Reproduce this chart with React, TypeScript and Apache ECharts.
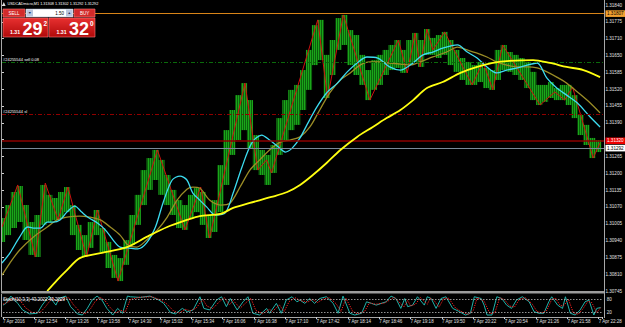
import React, { useEffect, useRef } from "react";
import * as echarts from "echarts";

const FONT = '"Liberation Sans", Arial, sans-serif';

const chartTitle = "USDCADmicro,M1 1.31308 1.31302 1.31292 1.31292";
const stochTitle = "Stoch(10,3,3) 43.2022 43.2029";

// right price scale labels, bottom to top (one hidden behind the ask box)
const priceTickLabels = [
  "1.30745", "1.30810", "1.30875", "1.30940", "1.31005", "1.31070", "1.31135", "1.31200", "1.31265",
  "", "1.31390", "1.31455", "1.31520", "1.31585", "1.31650", "1.31710", "1.31775", "1.31840",
];
const timeTickLabels = [
  "7 Apr 2016", "7 Apr 12:54", "7 Apr 13:26", "7 Apr 13:58", "7 Apr 14:30", "7 Apr 15:02", "7 Apr 15:34",
  "7 Apr 16:06", "7 Apr 16:38", "7 Apr 17:10", "7 Apr 17:42", "7 Apr 18:14", "7 Apr 18:46", "7 Apr 19:18",
  "7 Apr 19:50", "7 Apr 20:22", "7 Apr 20:54", "7 Apr 21:26", "7 Apr 21:58", "7 Apr 22:28",
];
const timeTickStep = 32; // minutes between time labels
const minutesShown = 612;
const priceMax = 1.318477;
const priceMin = 1.307411;

// M1 price bars, grouped every 6 minutes: high / low
const barStep = 6;
const barHigh = [
  1.31024, 1.31074, 1.31124, 1.31147, 1.31074, 1.31009, 1.31036, 1.31151, 1.31113, 1.31101,
  1.31124, 1.31143, 1.31074, 1.30998, 1.30959, 1.31009, 1.31055, 1.30986, 1.30933, 1.30883,
  1.30871, 1.30940, 1.31036, 1.31113, 1.31208, 1.31254, 1.31285, 1.31247, 1.31189, 1.31132,
  1.31093, 1.31074, 1.31113, 1.31139, 1.31124, 1.31036, 1.31093, 1.31227, 1.31361, 1.31438,
  1.31495, 1.31541, 1.31476, 1.31342, 1.31285, 1.31266, 1.31304, 1.31407, 1.31476, 1.31515,
  1.31534, 1.31591, 1.31668, 1.31763, 1.31783, 1.31649, 1.31706, 1.31790, 1.31802, 1.31744,
  1.31725, 1.31649, 1.31591, 1.31629, 1.31649, 1.31668, 1.31687, 1.31706, 1.31668, 1.31706,
  1.31733, 1.31706, 1.31748, 1.31714, 1.31725, 1.31737, 1.31706, 1.31668, 1.31637, 1.31622,
  1.31610, 1.31622, 1.31599, 1.31591, 1.31668, 1.31687, 1.31660, 1.31649, 1.31637, 1.31622,
  1.31584, 1.31534, 1.31534, 1.31545, 1.31522, 1.31534, 1.31534, 1.31495, 1.31419, 1.31381,
  1.31331, 1.31323,
];
const barLow = [
  1.30933, 1.30959, 1.30986, 1.31009, 1.30940, 1.30883, 1.30875, 1.30998, 1.31009, 1.31017,
  1.31024, 1.31047, 1.30959, 1.30902, 1.30875, 1.30910, 1.30959, 1.30894, 1.30833, 1.30795,
  1.30783, 1.30845, 1.30921, 1.30998, 1.31074, 1.31132, 1.31170, 1.31113, 1.31074, 1.31036,
  1.30986, 1.30979, 1.31024, 1.31047, 1.30998, 1.30948, 1.30971, 1.31047, 1.31151, 1.31266,
  1.31323, 1.31361, 1.31292, 1.31208, 1.31189, 1.31151, 1.31197, 1.31266, 1.31323, 1.31361,
  1.31381, 1.31438, 1.31515, 1.31610, 1.31629, 1.31484, 1.31572, 1.31668, 1.31687, 1.31610,
  1.31572, 1.31534, 1.31476, 1.31515, 1.31534, 1.31572, 1.31591, 1.31599, 1.31580, 1.31610,
  1.31622, 1.31603, 1.31649, 1.31649, 1.31637, 1.31649, 1.31610, 1.31584, 1.31553, 1.31534,
  1.31534, 1.31545, 1.31522, 1.31515, 1.31553, 1.31591, 1.31584, 1.31572, 1.31553, 1.31522,
  1.31476, 1.31457, 1.31469, 1.31484, 1.31476, 1.31476, 1.31457, 1.31407, 1.31342, 1.31304,
  1.31254, 1.31277,
];

// [minute, price]
const zigzag = [
  [0, 1.3099], [16, 1.31151], [34, 1.30875], [44, 1.31158], [57, 1.31017], [67, 1.31143], [86, 1.30875],
  [97, 1.31055], [118, 1.30783], [158, 1.31285], [186, 1.30979], [202, 1.31143], [211, 1.30948],
  [247, 1.31541], [260, 1.31208], [269, 1.31247], [274, 1.31197], [321, 1.31783], [331, 1.31484],
  [347, 1.31802], [374, 1.31476], [403, 1.31706], [412, 1.3158], [420, 1.31733], [425, 1.31603],
  [432, 1.31748], [438, 1.31668], [450, 1.31737], [478, 1.31534], [489, 1.31622], [499, 1.31515],
  [509, 1.31687], [547, 1.31457], [562, 1.31507], [572, 1.31476], [580, 1.31526], [601, 1.31254],
  [608, 1.31312],
];
const fastMA = [
  [0, 1.30852], [8, 1.3089], [18, 1.30952], [26, 1.3099], [32, 1.30986], [39, 1.30986], [46, 1.31009],
  [52, 1.31009], [59, 1.31017], [66, 1.31047], [74, 1.3107], [81, 1.31047], [87, 1.31028], [97, 1.31005],
  [105, 1.30979], [113, 1.3094], [120, 1.30913], [128, 1.3091], [138, 1.30906], [147, 1.30929],
  [156, 1.3099], [164, 1.31086], [173, 1.3117], [181, 1.31185], [188, 1.3117], [194, 1.3112],
  [201, 1.31093], [208, 1.31067], [217, 1.31036], [227, 1.31044], [235, 1.3112], [244, 1.3122],
  [254, 1.31312], [264, 1.31342], [272, 1.31323], [281, 1.31296], [288, 1.31277], [295, 1.31292],
  [303, 1.31331], [310, 1.31381], [320, 1.31449], [330, 1.31503], [341, 1.31541], [351, 1.31584],
  [361, 1.31618], [371, 1.31641], [382, 1.31637], [394, 1.31603], [405, 1.31591], [415, 1.3161],
  [428, 1.31649], [438, 1.3166], [448, 1.31675], [463, 1.31687], [473, 1.3166], [483, 1.31637],
  [493, 1.31603], [503, 1.3158], [513, 1.31591], [524, 1.31599], [534, 1.3161], [544, 1.31618],
  [554, 1.3156], [564, 1.31522], [574, 1.31495], [585, 1.31465], [598, 1.31411], [608, 1.31373],
];
const slowMA = [
  [0, 1.30806], [8, 1.30852], [18, 1.30902], [32, 1.30952], [46, 1.3099], [56, 1.31017], [66, 1.31028],
  [79, 1.31032], [89, 1.31028], [100, 1.31017], [110, 1.3099], [120, 1.30959], [128, 1.30921],
  [137, 1.30913], [147, 1.3094], [158, 1.30979], [168, 1.31028], [178, 1.31093], [188, 1.31135],
  [194, 1.31143], [201, 1.31139], [211, 1.31093], [222, 1.31074], [232, 1.31082], [242, 1.31143],
  [252, 1.31208], [262, 1.31247], [272, 1.31285], [283, 1.31315], [293, 1.31323], [303, 1.31335],
  [313, 1.31373], [323, 1.31438], [333, 1.31503], [344, 1.31553], [354, 1.3158], [364, 1.3161],
  [374, 1.31622], [384, 1.31622], [394, 1.31618], [405, 1.31614], [415, 1.3161], [425, 1.31622],
  [438, 1.31641], [452, 1.3166], [463, 1.31679], [473, 1.31668], [483, 1.31656], [493, 1.31641],
  [503, 1.31622], [513, 1.3161], [524, 1.31603], [534, 1.31603], [544, 1.31599], [554, 1.31584],
  [564, 1.31564], [574, 1.31541], [585, 1.31507], [598, 1.31465], [608, 1.31427],
];
const longMA = [
  [46, 1.30745], [56, 1.30787], [66, 1.30825], [79, 1.30871], [100, 1.3089], [127, 1.30913],
  [147, 1.30952], [168, 1.3099], [188, 1.31017], [201, 1.31032], [222, 1.3104], [235, 1.31063],
  [252, 1.31082], [274, 1.31105], [290, 1.31124], [303, 1.31151], [316, 1.31189], [330, 1.31235],
  [344, 1.31285], [361, 1.31335], [377, 1.31373], [391, 1.31407], [405, 1.31438], [418, 1.31476],
  [432, 1.31522], [448, 1.31545], [466, 1.3158], [483, 1.31603], [499, 1.31618], [516, 1.31626],
  [540, 1.31629], [557, 1.31618], [574, 1.31603], [591, 1.31591], [608, 1.31564],
];

// stochastic [minute, value]
const stochMain = [
  [0, 54], [3, 62], [8, 95], [15, 62], [20, 32], [27, 14], [35, 17], [40, 54], [47, 95], [54, 54],
  [57, 84], [64, 95], [69, 47], [76, 14], [81, 9], [86, 39], [91, 77], [96, 95], [101, 77], [106, 39],
  [112, 9], [117, 39], [122, 17], [127, 95], [130, 92], [140, 89], [150, 95], [159, 77], [164, 62],
  [171, 20], [176, 14], [183, 39], [188, 24], [194, 32], [201, 92], [205, 39], [211, 32], [218, 77],
  [223, 92], [228, 47], [232, 84], [239, 32], [245, 69], [250, 92], [255, 17], [262, 9], [269, 39],
  [272, 17], [279, 62], [284, 17], [289, 77], [295, 92], [300, 69], [303, 77], [308, 62], [313, 84],
  [318, 62], [323, 84], [330, 92], [337, 62], [342, 17], [347, 95], [354, 17], [359, 9], [366, 17],
  [371, 69], [376, 62], [381, 54], [386, 62], [391, 69], [396, 95], [401, 84], [406, 39], [410, 84],
  [413, 47], [418, 54], [423, 92], [430, 54], [433, 92], [437, 84], [442, 39], [447, 84], [452, 92],
  [459, 39], [466, 24], [472, 9], [477, 17], [481, 92], [488, 84], [491, 54], [494, 9], [499, 9],
  [504, 92], [509, 84], [514, 54], [519, 39], [524, 77], [530, 92], [537, 69], [542, 24], [547, 17],
  [552, 17], [557, 69], [560, 92], [566, 54], [571, 39], [574, 92], [579, 17], [584, 9], [589, 32],
  [594, 69], [598, 77], [603, 9], [606, 39], [610, 43],
];
const stochSignal = [
  [0, 58], [6, 70], [11, 88], [18, 72], [23, 42], [30, 20], [38, 22], [43, 45], [50, 85], [57, 70],
  [62, 85], [67, 88], [72, 55], [79, 22], [84, 15], [89, 35], [94, 70], [99, 90], [104, 75], [109, 45],
  [115, 18], [120, 30], [125, 25], [130, 80], [140, 90], [152, 92], [162, 75], [167, 60], [174, 28],
  [180, 18], [186, 35], [191, 28], [197, 40], [204, 80], [208, 50], [214, 38], [221, 70], [226, 88],
  [231, 55], [235, 75], [242, 40], [248, 65], [253, 85], [258, 30], [265, 15], [272, 35], [275, 25],
  [282, 55], [287, 25], [292, 70], [298, 88], [303, 75], [311, 68], [316, 80], [321, 66], [327, 82],
  [333, 88], [340, 60], [345, 25], [350, 85], [357, 25], [362, 14], [369, 25], [374, 65], [380, 58],
  [389, 63], [394, 75], [399, 90], [404, 70], [409, 45], [413, 75], [416, 50], [421, 58], [426, 88],
  [433, 58], [436, 85], [440, 75], [445, 45], [450, 85], [455, 85], [462, 40], [469, 22], [475, 12],
  [480, 30], [484, 88], [491, 72], [497, 15], [502, 20], [507, 88], [512, 78], [517, 50], [522, 45],
  [527, 80], [533, 88], [540, 60], [545, 25], [550, 18], [555, 30], [560, 80], [564, 85], [569, 50],
  [573, 55], [577, 82], [582, 20], [587, 12], [592, 38], [597, 72], [601, 65], [606, 20], [610, 43],
];
const stochLevels = [20, 80];

// order / price levels
const tpPrice = 1.31807;
const entryPrice = 1.3162;
const slPrice = 1.3142;
const askPrice = 1.3132;
const bidPrice = 1.31292;
const entryLabel = "#24255544 sell 0.08";
const slLabel = "#24255544 sl";

// one-click trading panel
const pricePrefix = "1.31";
const sellPips = "29";
const sellFrac = "2";
const buyPips = "32";
const buyFrac = "0";
const lotSize = "1.50";

function redBox(x: number, w: number) {
  return {
    type: "rect",
    shape: { x, y: 18, width: w, height: 19 },
    style: {
      fill: new echarts.graphic.LinearGradient(0, 0, 0, 1, [
        { offset: 0, color: "#e83030" },
        { offset: 1, color: "#b00a0a" },
      ]),
      stroke: "#ff7b7b",
      lineWidth: 0.6,
    },
  };
}
function txt(text: string, x: number, y: number, size: number, opts: any = {}) {
  return {
    type: "text",
    x,
    y,
    style: {
      text,
      fill: opts.fill || "#ffffff",
      fontSize: size,
      fontWeight: opts.bold ? "bold" : "normal",
      fontFamily: FONT,
      align: opts.align || "left",
      verticalAlign: "middle",
    },
  };
}

function barPattern(): any {
  const c = document.createElement("canvas");
  c.width = 2;
  c.height = 2;
  const ctx = c.getContext("2d");
  if (!ctx) return "#129812";
  ctx.fillStyle = "#1aa61a";
  ctx.fillRect(0, 0, 1, 2);
  ctx.fillStyle = "#0b620b";
  ctx.fillRect(1, 0, 1, 2);
  return { image: c.toDataURL(), repeat: "repeat" };
}

export default function App() {
  const ref = useRef<HTMLDivElement>(null);
  useEffect(() => {
    if (!ref.current) return;
    const chart = echarts.init(ref.current, undefined, { renderer: "svg" });
    const gray = "#a8a8a8";
    const barFill = barPattern();
    const boxLabel = (v: number, bg: string, fg: string) => ({
      show: true, position: "end", distance: 1.5, formatter: v.toFixed(5),
      backgroundColor: bg, color: fg, fontSize: 4.6, fontFamily: FONT, padding: [1, 1.5, 0.6, 1.5],
    });
    const option: any = {
      animation: false,
      backgroundColor: "#000000",
      grid: [
        { left: 2, top: 3, width: 602, height: 289 },
        { left: 2, top: 5, width: 602, height: 286 },
        { left: 2, top: 295, width: 602, height: 22 },
      ],
      xAxis: [
        { type: "value", gridIndex: 0, min: 0, max: minutesShown, show: false },
        { type: "value", gridIndex: 1, min: 0, max: minutesShown, show: false },
        {
          type: "value",
          gridIndex: 2,
          min: 0,
          max: minutesShown,
          interval: timeTickStep,
          position: "bottom",
          axisLine: { show: true, lineStyle: { color: gray, width: 1 } },
          axisTick: { show: true, length: 2, lineStyle: { color: "#cfcfcf" } },
          splitLine: { show: false },
          axisLabel: {
            margin: 2,
            align: "left",
            fontSize: 4.5,
            color: "#e0e0e0",
            fontFamily: FONT,
            formatter: (v: number) => {
              const i = v / timeTickStep;
              return Number.isInteger(i) && timeTickLabels[i] ? timeTickLabels[i] : "";
            },
          },
        },
      ],
      yAxis: [
        { type: "value", gridIndex: 0, min: priceMin, max: priceMax, show: false },
        {
          type: "value",
          gridIndex: 1,
          position: "right",
          min: 0,
          max: priceTickLabels.length - 1,
          interval: 1,
          axisLine: { show: false },
          axisTick: { show: true, length: 2, lineStyle: { color: "#cfcfcf" } },
          splitLine: { show: false },
          axisLabel: {
            margin: 3,
            fontSize: 4.6,
            color: "#e0e0e0",
            fontFamily: FONT,
            formatter: (v: number) => priceTickLabels[Math.round(v)] || "",
          },
        },
        {
          type: "value",
          gridIndex: 2,
          position: "right",
          min: 0,
          max: 100,
          interval: 20,
          axisLine: { show: false },
          axisTick: { show: false },
          splitLine: { show: false },
          axisLabel: {
            margin: 4,
            fontSize: 4.5,
            color: "#e0e0e0",
            fontFamily: FONT,
            formatter: (v: number) => (stochLevels.includes(v) ? String(v) : ""),
          },
        },
      ],
      series: [
        {
          type: "custom",
          xAxisIndex: 0,
          yAxisIndex: 0,
          z: 1,
          clip: true,
          encode: { x: 0, y: [1, 2] },
          data: barHigh.map((h, i) => [i * barStep, barLow[i], h]),
          renderItem: (params: any, api: any) => {
            const t = api.value(0);
            const lo = api.coord([t, api.value(1)]);
            const hi = api.coord([t, api.value(2)]);
            const w = api.size([barStep, 0])[0];
            return {
              type: "rect",
              shape: { x: lo[0] - w / 2, y: hi[1], width: w + 0.2, height: Math.max(1, lo[1] - hi[1]) },
              style: { fill: barFill },
            };
          },
        },
        {
          type: "line",
          xAxisIndex: 0,
          yAxisIndex: 0,
          z: 2,
          showSymbol: false,
          silent: true,
          data: zigzag,
          lineStyle: { color: "#d01010", width: 1 },
          markLine: {
            silent: true,
            precision: 5,
            symbol: ["none", "none"],
            data: [
              {
                yAxis: tpPrice,
                lineStyle: { color: "#d88418", width: 1, type: "solid" },
                label: boxLabel(tpPrice, "#f2a030", "#000000"),
              },
              {
                yAxis: entryPrice,
                lineStyle: { color: "#0b6a0b", width: 1, type: [4, 2, 1, 2] },
                label: {
                  show: true, position: "insideStartTop", distance: 1, formatter: entryLabel,
                  color: "#ffffff", fontSize: 4, fontFamily: FONT,
                },
              },
              {
                yAxis: slPrice,
                lineStyle: { color: "#900000", width: 1, type: [4, 2, 1, 2] },
                label: {
                  show: true, position: "insideStartTop", distance: 1, formatter: slLabel,
                  color: "#ffffff", fontSize: 4, fontFamily: FONT,
                },
              },
              {
                yAxis: askPrice,
                lineStyle: { color: "#8c0000", width: 1.6, type: "solid" },
                label: boxLabel(askPrice, "#ee0000", "#ffffff"),
              },
              {
                yAxis: bidPrice,
                lineStyle: { color: "#7b8a9a", width: 1, type: "solid" },
                label: boxLabel(bidPrice, "#ffffff", "#000000"),
              },
            ],
          },
        },
        {
          type: "line", xAxisIndex: 0, yAxisIndex: 0, z: 3, showSymbol: false, silent: true, smooth: 0.3,
          data: slowMA, lineStyle: { color: "#9a8c26", width: 1.3 },
        },
        {
          type: "line", xAxisIndex: 0, yAxisIndex: 0, z: 4, showSymbol: false, silent: true, smooth: 0.3,
          data: fastMA, lineStyle: { color: "#3cdcf0", width: 1.3 },
        },
        {
          type: "line", xAxisIndex: 0, yAxisIndex: 0, z: 5, showSymbol: false, silent: true, smooth: 0.3,
          data: longMA, lineStyle: { color: "#ffff10", width: 1.8 },
        },
        {
          type: "line", xAxisIndex: 2, yAxisIndex: 2, z: 3, showSymbol: false, silent: true,
          data: stochMain, lineStyle: { color: "#20b2aa", width: 1 },
          markLine: {
            silent: true,
            symbol: ["none", "none"],
            label: { show: false },
            lineStyle: { color: "#b8b8b8", width: 0.8, type: [1.5, 1.5] },
            data: stochLevels.map((v) => ({ yAxis: v })),
          },
        },
        {
          type: "line", xAxisIndex: 2, yAxisIndex: 2, z: 4, showSymbol: false, silent: true,
          data: stochSignal, lineStyle: { color: "#ff2020", width: 1, type: [1.2, 1.2] },
        },
      ],
      graphic: [
        { type: "line", z: 40, shape: { x1: 1.5, y1: 0, x2: 1.5, y2: 292 }, style: { stroke: gray, lineWidth: 1 } },
        { type: "line", z: 40, shape: { x1: 1.5, y1: 294, x2: 1.5, y2: 317 }, style: { stroke: gray, lineWidth: 1 } },
        { type: "rect", z: 40, shape: { x: 1, y: 291, width: 604, height: 2.6 }, style: { fill: "#9c9c9c" } },
        { type: "line", z: 40, shape: { x1: 604.5, y1: 0, x2: 604.5, y2: 318 }, style: { stroke: gray, lineWidth: 1 } },
        { type: "polygon", z: 60, shape: { points: [[2, 6], [3.8, 2], [5.6, 6]] }, style: { fill: "#dddddd" } },
        { ...txt(chartTitle, 7.5, 4.2, 3.8), z: 60 },
        { ...txt(stochTitle, 3, 299, 4.5), z: 60 },
        // trade panel
        { type: "rect", z: 60, shape: { x: 3, y: 9, width: 22, height: 8 }, style: { fill: "#d22a2a", stroke: "#ff7b7b", lineWidth: 0.6 } },
        { ...txt("SELL", 14, 13.2, 4.5, { align: "center" }), z: 61 },
        { type: "rect", z: 60, shape: { x: 26, y: 9, width: 47, height: 8 }, style: { fill: "#ffffff", stroke: "#9aa8c0", lineWidth: 0.5 } },
        { type: "rect", z: 61, shape: { x: 26.5, y: 9.5, width: 6.5, height: 7 }, style: { fill: "#b9c6de" } },
        { type: "rect", z: 61, shape: { x: 66, y: 9.5, width: 6.5, height: 7 }, style: { fill: "#b9c6de" } },
        { ...txt("\u25BC", 29.75, 13.2, 3.6, { align: "center", fill: "#23315a" }), z: 62 },
        { ...txt("\u25B2", 69.25, 13.2, 3.6, { align: "center", fill: "#23315a" }), z: 62 },
        { ...txt(lotSize, 64, 13.2, 4.5, { align: "right", fill: "#000000" }), z: 62 },
        { type: "rect", z: 60, shape: { x: 74, y: 9, width: 21, height: 8 }, style: { fill: "#d22a2a", stroke: "#ff7b7b", lineWidth: 0.6 } },
        { ...txt("BUY", 84.5, 13.2, 4.5, { align: "center" }), z: 61 },
        { ...redBox(3, 45), z: 60 },
        { ...redBox(49, 46), z: 60 },
        { ...txt(pricePrefix, 10, 31.5, 5.2, { bold: true }), z: 61 },
        { ...txt(sellPips, 22.5, 28.8, 18, { bold: true }), z: 61 },
        { ...txt(sellFrac, 43.5, 23, 6.5, { bold: true }), z: 61 },
        { ...txt(pricePrefix, 56.5, 31.5, 5.2, { bold: true }), z: 61 },
        { ...txt(buyPips, 69, 28.8, 18, { bold: true }), z: 61 },
        { ...txt(buyFrac, 90, 23, 6.5, { bold: true }), z: 61 },
      ],
    };
    chart.setOption(option);
    return () => chart.dispose();
  }, []);
  return (
    <div
      ref={ref}
      style={{ position: "fixed", left: 0, top: 0, width: 625, height: 327, background: "#000" }}
    />
  );
}
